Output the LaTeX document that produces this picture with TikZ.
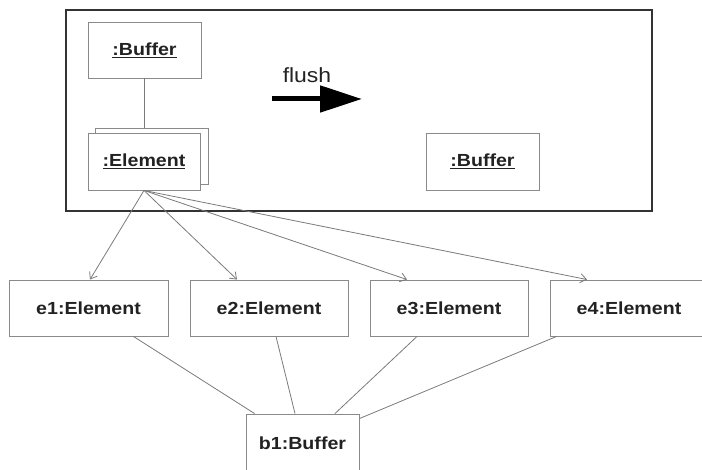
\documentclass[tikz,border=0pt]{standalone}
\usepackage{fontspec}
\newfontfamily\labfont{Liberation Sans}[FakeStretch=1.12]
\usetikzlibrary{arrows.meta}
\definecolor{boxline}{HTML}{8A8A8A}
\definecolor{conn}{HTML}{7A7A7A}
\definecolor{frameline}{HTML}{333333}
\definecolor{ink}{HTML}{222222}
\tikzset{
  objbox/.style={draw=boxline, line width=0.9pt, fill=white, minimum width=113pt,
    minimum height=56pt, inner sep=0pt, text=ink,
    font=\labfont\bfseries\fontsize{17.5pt}{20pt}\selectfont},
  wide/.style={minimum width=158pt},
  link/.style={draw=conn, line width=0.8pt},
  nav/.style={link, -{Straight Barb[length=6pt 0,width=9pt 0]}},
}
\begin{document}
\begin{tikzpicture}[x=1pt,y=-1pt]
\useasboundingbox (0,0) rectangle (702,470);
% enclosing frame
\draw[frameline, line width=2pt] (66,10) rectangle (652,211);

% objects inside the frame
\node[objbox] (bufA) at (144.5,50) {\underline{:Buffer}};
\node[objbox] (elemBack) at (151.5,156) {};
\node[objbox, minimum width=112pt, minimum height=57pt] (elemFront) at (144,161.5) {\underline{:Element}};
\node[objbox, minimum height=57pt] (bufB) at (482.5,161.5) {\underline{:Buffer}};
\draw[link] (bufA.south) -- (bufA.south |- elemBack.north);

% flush arrow
\node[text=ink, font=\labfont\fontsize{20.5pt}{24pt}\selectfont, anchor=base] (flushlbl) at (307,83) {flush};
\coordinate (fs) at (272,99);
\coordinate (fe) at (362,99);
\draw[black, line width=5pt, -{Triangle[length=42pt 0,width=26pt 0]}] (fs) -- (fe);

% element instances
\node[objbox, wide, minimum width=159pt] (e1) at (88.5,308) {e1:Element};
\node[objbox, wide] (e2) at (269,308) {e2:Element};
\node[objbox, wide] (e3) at (449,308) {e3:Element};
\node[objbox, wide] (e4) at (629,308) {e4:Element};
\node[objbox, minimum height=58pt] (b1) at (302.5,443) {b1:Buffer};

% navigation from the multiobject to each element
\draw[nav] (elemFront.south) -- ([xshift=1.5pt]e1.north);
\draw[nav] (elemFront.south) -- ([xshift=-32pt]e2.north);
\draw[nav] (elemFront.south) -- ([xshift=-42pt]e3.north);
\draw[nav] (elemFront.south) -- ([xshift=-42pt]e4.north);

% links from each element to the buffer
\draw[link] ([xshift=-35pt]e1.south east) -- ([xshift=9pt]b1.north west);
\draw[link] ([xshift=7pt]e2.south) -- ([xshift=-7.5pt]b1.north);
\draw[link] ([xshift=-32pt]e3.south) -- ([xshift=32.5pt]b1.north);
\draw[link] ([xshift=7pt]e4.south west) -- ([yshift=-5pt]b1.north east);
\end{tikzpicture}
\end{document}
